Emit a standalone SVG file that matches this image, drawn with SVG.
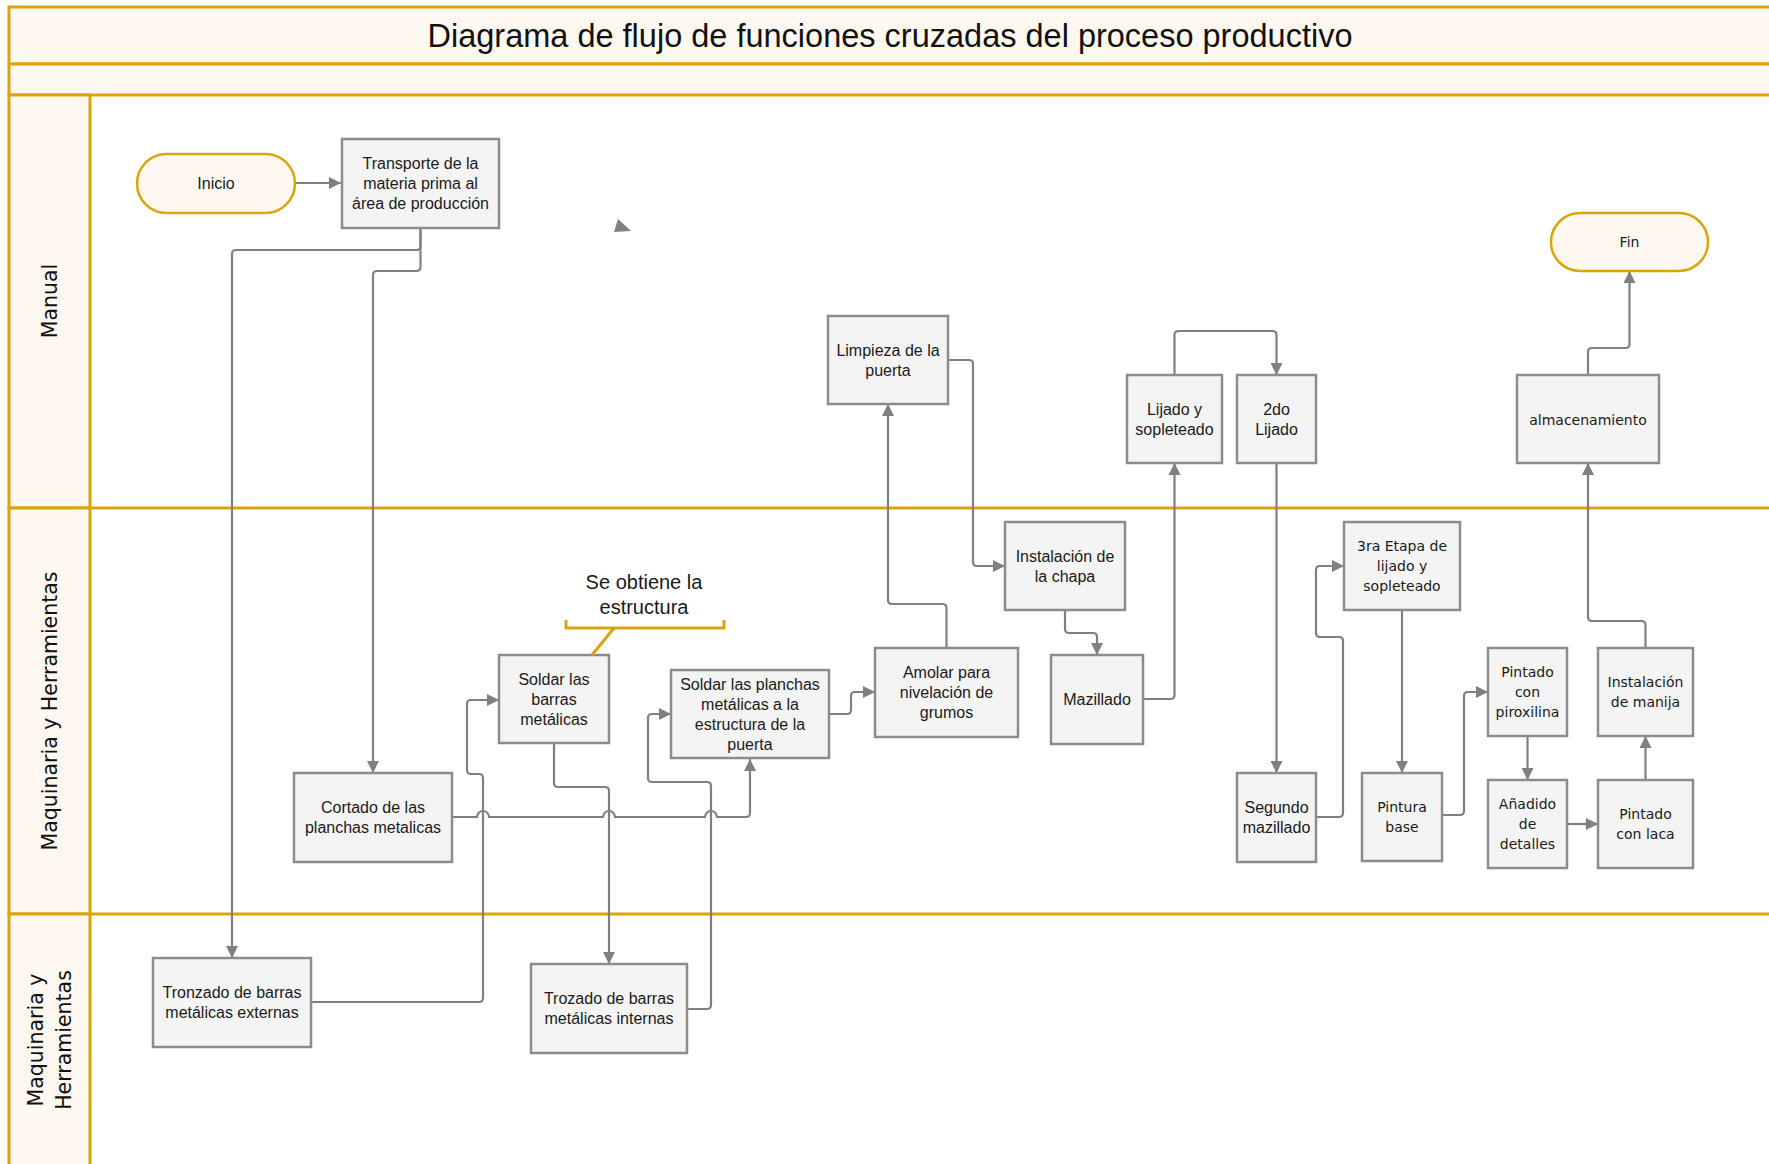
<svg xmlns="http://www.w3.org/2000/svg" width="1769" height="1164" viewBox="0 0 1769 1164">
<defs>
<style>
.lane{fill:#FFF8F1;stroke:#D9A40E;stroke-width:3}
.gl{fill:none;stroke:#D9A40E;stroke-width:3}
.box{fill:#F4F4F4;stroke:#8C8C8C;stroke-width:2.5}
.pill{fill:#FFF8F1;stroke:#D9A40E;stroke-width:2.5}
.c{fill:none;stroke:#808080;stroke-width:2.2;marker-end:url(#ah)}
.t{font-family:"Liberation Sans",Arial,sans-serif;font-size:16px;fill:#1A1A1A;text-anchor:middle}
.w{font-family:"DejaVu Sans",Verdana,sans-serif;font-size:14px;fill:#1A1A1A;text-anchor:middle}
.title{font-family:"Liberation Sans",Arial,sans-serif;font-size:32.5px;fill:#111;text-anchor:middle}
.ll{font-family:"DejaVu Sans",Verdana,sans-serif;font-size:20.5px;fill:#111;text-anchor:middle;dominant-baseline:central}
.ann{font-family:"Liberation Sans",Arial,sans-serif;font-size:20px;fill:#1A1A1A;text-anchor:middle}
</style>
<marker id="ah" viewBox="0 0 10 10" refX="10" refY="5" markerUnits="userSpaceOnUse" markerWidth="13" markerHeight="12" orient="auto">
<path d="M0,0 L10,5 L0,10 z" fill="#808080"/>
</marker>
</defs>
<rect x="0" y="0" width="1769" height="1164" fill="#FFFFFF"/>
<g id="frame">
<rect class="lane" x="9" y="7" width="1775" height="57"/>
<rect class="lane" x="9" y="64" width="1775" height="31"/>
<rect class="lane" x="9" y="95" width="81" height="413"/>
<rect class="lane" x="9" y="508" width="81" height="406"/>
<rect class="lane" x="9" y="914" width="81" height="260"/>
<line class="gl" x1="90" y1="508" x2="1775" y2="508"/>
<line class="gl" x1="90" y1="914" x2="1775" y2="914"/>
<text class="title" x="890" y="47">Diagrama de flujo de funciones cruzadas del proceso productivo</text>
<text class="ll" transform="translate(50,301) rotate(-90)">Manual</text>
<text class="ll" transform="translate(50,711) rotate(-90)">Maquinaria y Herramientas</text>
<text class="ll" transform="translate(36,1040) rotate(-90)">Maquinaria y</text>
<text class="ll" transform="translate(64,1040) rotate(-90)">Herramientas</text>
</g>
<g id="connectors">
<path class="c" d="M295,183 H341"/>
<path class="c" d="M420.5,228 V246 Q420.5,250 416.5,250 H236 Q232,250 232,254 V958"/>
<path class="c" d="M420.5,228 V267 Q420.5,271 416.5,271 H377 Q373,271 373,275 V773"/>
<path class="c" d="M311,1002 H479 Q483,1002 483,998 V778 Q483,774 479,774 H471 Q467,774 467,770 V704 Q467,700 471,700 H499"/>
<path class="c" d="M554,743 V783 Q554,787 558,787 H605 Q609,787 609,791 V964"/>
<path class="c" d="M687,1009 H707 Q711,1009 711,1005 V786 Q711,782 707,782 H652 Q648,782 648,778 V718 Q648,714 652,714 H671"/>
<path class="c" d="M452,817 H477 A6,6 0 0 1 489,817 H603 A6,6 0 0 1 615,817 H705 A6,6 0 0 1 717,817 H746 Q750,817 750,813 V759"/>
<path class="c" d="M829,714 H847 Q851,714 851,710 V696 Q851,692 855,692 H875"/>
<path class="c" d="M946.5,648 V608 Q946.5,604 942.5,604 H892 Q888,604 888,600 V404"/>
<path class="c" d="M948,360 H969 Q973,360 973,364 V562 Q973,566 977,566 H1005"/>
<path class="c" d="M1065,610 V629 Q1065,633 1069,633 H1093 Q1097,633 1097,637 V655"/>
<path class="c" d="M1143,699 H1170.5 Q1174.5,699 1174.5,695 V463"/>
<path class="c" d="M1174.5,375 V335 Q1174.5,331 1178.5,331 H1272.5 Q1276.5,331 1276.5,335 V375"/>
<path class="c" d="M1276.5,463 V773"/>
<path class="c" d="M1316,817 H1339 Q1343,817 1343,813 V641 Q1343,637 1339,637 H1320 Q1316,637 1316,633 V570 Q1316,566 1320,566 H1344"/>
<path class="c" d="M1402,610 V773"/>
<path class="c" d="M1442,815 H1460 Q1464,815 1464,811 V696 Q1464,692 1468,692 H1488"/>
<path class="c" d="M1527.5,736 V780"/>
<path class="c" d="M1567,824 H1598"/>
<path class="c" d="M1645.5,780 V736"/>
<path class="c" d="M1645.5,648 V625 Q1645.5,621 1641.5,621 H1592 Q1588,621 1588,617 V463"/>
<path class="c" d="M1588,375 V352 Q1588,348 1592,348 H1625.5 Q1629.5,348 1629.5,344 V271"/>
<polygon points="618,219 631,231 614,232" fill="#808080"/>
</g>
<g id="n-inicio"><rect class="pill" x="137" y="154" width="158" height="59" rx="29.5"/><text class="t" x="216" y="188.5">Inicio</text></g>
<g id="n-fin"><rect class="pill" x="1551" y="213" width="157" height="58" rx="29"/><text class="w" x="1629.5" y="247">Fin</text></g>
<g id="n-transporte"><rect class="box" x="342" y="139" width="157" height="89"/><text class="t"><tspan x="420.5" y="169">Transporte de la</tspan><tspan x="420.5" y="189">materia prima al</tspan><tspan x="420.5" y="209">área de producción</tspan></text></g>
<g id="n-limpieza"><rect class="box" x="828" y="316" width="120" height="88"/><text class="t"><tspan x="888" y="355.5">Limpieza de la</tspan><tspan x="888" y="375.5">puerta</tspan></text></g>
<g id="n-lijado"><rect class="box" x="1127" y="375" width="95" height="88"/><text class="t"><tspan x="1174.5" y="414.5">Lijado y</tspan><tspan x="1174.5" y="434.5">sopleteado</tspan></text></g>
<g id="n-2do"><rect class="box" x="1237" y="375" width="79" height="88"/><text class="t"><tspan x="1276.5" y="414.5">2do</tspan><tspan x="1276.5" y="434.5">Lijado</tspan></text></g>
<g id="n-almacen"><rect class="box" x="1517" y="375" width="142" height="88"/><text class="w" x="1588" y="424.5">almacenamiento</text></g>
<g id="n-chapa"><rect class="box" x="1005" y="522" width="120" height="88"/><text class="t"><tspan x="1065" y="561.5">Instalación de</tspan><tspan x="1065" y="581.5">la chapa</tspan></text></g>
<g id="n-mazillado"><rect class="box" x="1051" y="655" width="92" height="89"/><text class="t" x="1097" y="705">Mazillado</text></g>
<g id="n-3ra"><rect class="box" x="1344" y="522" width="116" height="88"/><text class="w"><tspan x="1402" y="551">3ra Etapa de</tspan><tspan x="1402" y="571">lijado y</tspan><tspan x="1402" y="591">sopleteado</tspan></text></g>
<g id="n-soldar-barras"><rect class="box" x="499" y="655" width="110" height="88"/><text class="t"><tspan x="554" y="684.5">Soldar las</tspan><tspan x="554" y="704.5">barras</tspan><tspan x="554" y="724.5">metálicas</tspan></text></g>
<g id="n-soldar-planchas"><rect class="box" x="671" y="670" width="158" height="88"/><text class="t"><tspan x="750" y="689.5">Soldar las planchas</tspan><tspan x="750" y="709.5">metálicas a la</tspan><tspan x="750" y="729.5">estructura de la</tspan><tspan x="750" y="749.5">puerta</tspan></text></g>
<g id="n-amolar"><rect class="box" x="875" y="648" width="143" height="89"/><text class="t"><tspan x="946.5" y="678">Amolar para</tspan><tspan x="946.5" y="698">nivelación de</tspan><tspan x="946.5" y="718">grumos</tspan></text></g>
<g id="n-cortado"><rect class="box" x="294" y="773" width="158" height="89"/><text class="t"><tspan x="373" y="813">Cortado de las</tspan><tspan x="373" y="833">planchas metalicas</tspan></text></g>
<g id="n-segundo"><rect class="box" x="1237" y="773" width="79" height="89"/><text class="t"><tspan x="1276.5" y="813">Segundo</tspan><tspan x="1276.5" y="833">mazillado</tspan></text></g>
<g id="n-pintura"><rect class="box" x="1362" y="773" width="80" height="88"/><text class="w"><tspan x="1402" y="812">Pintura</tspan><tspan x="1402" y="832">base</tspan></text></g>
<g id="n-piroxilina"><rect class="box" x="1488" y="648" width="79" height="88"/><text class="w"><tspan x="1527.5" y="677">Pintado</tspan><tspan x="1527.5" y="697">con</tspan><tspan x="1527.5" y="717">piroxilina</tspan></text></g>
<g id="n-anadido"><rect class="box" x="1488" y="780" width="79" height="88"/><text class="w"><tspan x="1527.5" y="809">Añadido</tspan><tspan x="1527.5" y="829">de</tspan><tspan x="1527.5" y="849">detalles</tspan></text></g>
<g id="n-laca"><rect class="box" x="1598" y="780" width="95" height="88"/><text class="w"><tspan x="1645.5" y="819">Pintado</tspan><tspan x="1645.5" y="839">con laca</tspan></text></g>
<g id="n-manija"><rect class="box" x="1598" y="648" width="95" height="88"/><text class="w"><tspan x="1645.5" y="687">Instalación</tspan><tspan x="1645.5" y="707">de manija</tspan></text></g>
<g id="n-tronzado"><rect class="box" x="153" y="958" width="158" height="89"/><text class="t"><tspan x="232" y="998">Tronzado de barras</tspan><tspan x="232" y="1018">metálicas externas</tspan></text></g>
<g id="n-trozado"><rect class="box" x="531" y="964" width="156" height="89"/><text class="t"><tspan x="609" y="1004">Trozado de barras</tspan><tspan x="609" y="1024">metálicas internas</tspan></text></g>
<g id="annotation">
<path class="gl" d="M566,620 V628 H724 V620" stroke-width="2.5"/>
<line class="gl" x1="614" y1="628" x2="592" y2="655" stroke-width="2.5"/>
<text class="ann"><tspan x="644" y="589">Se obtiene la</tspan><tspan x="644" y="614">estructura</tspan></text>
</g>
</svg>
